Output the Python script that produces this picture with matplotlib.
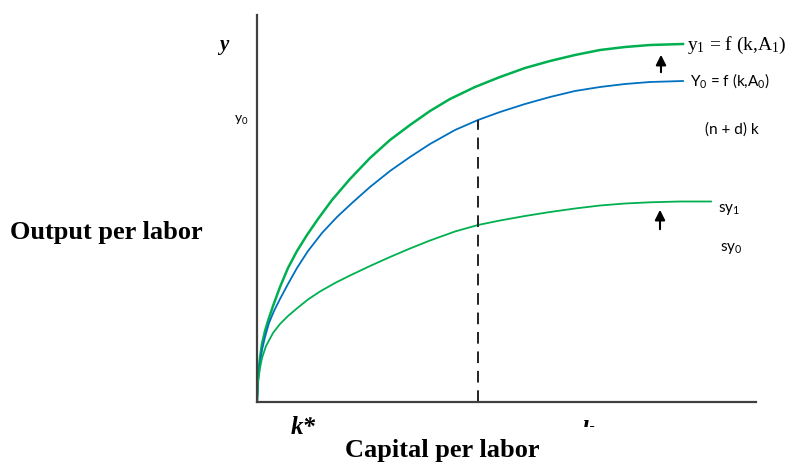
import matplotlib
matplotlib.use("Agg")
import matplotlib.pyplot as plt
from matplotlib.transforms import Bbox

# curve points (k = capital per labor, y = output per labor)
k_a1 = [0, 1, 3, 5, 8, 11, 16, 23, 31, 40, 50, 61, 75, 93, 113, 133, 153, 173, 193,
        218, 243, 268, 293, 318, 343, 368, 393, 426]
y_a1 = [0, 24, 44, 58, 71, 81, 96, 115, 134, 151, 167, 183, 202, 223, 244, 262, 277, 291, 303,
        315, 325, 334, 341, 347, 352, 355, 357, 358]

k_a0 = [0, 1, 3, 5, 8, 12, 17, 23, 31, 40, 51, 65, 80, 95, 113, 133, 153, 173, 198,
        221, 243, 268, 293, 318, 343, 368, 393, 426]
y_a0 = [0, 22, 39, 52, 65, 79, 91, 103, 118, 134, 151, 169, 185, 199, 215, 231, 245, 258, 272,
        282, 290, 298, 305, 311, 315, 318, 320, 321]

k_sy1 = [0, 1, 3, 5, 9, 16, 23, 31, 41, 51, 63, 78, 93, 113, 133, 153, 173, 198,
         221, 243, 268, 293, 318, 343, 368, 393, 423, 454]
y_sy1 = [0, 20, 34, 44, 56, 69, 78, 86, 94.5, 102.5, 110.5, 119, 126.5, 136, 145, 153.5, 161.5, 170.5,
         177, 181.5, 186, 190, 193.5, 196.5, 198.5, 199.7, 200.5, 200.5]

k_star = 221
y_star = 282

GREEN = "#00B050"
BLUE = "#0070C0"
AXIS = "#404040"

W, H = 787, 466
fig = plt.figure(figsize=(W / 100, H / 100), dpi=100)
plt.rcParams["mathtext.default"] = "regular"

# axes placed in pixel terms: left 257, right 756, top 15, bottom 402
ax = fig.add_axes([257 / W, 1 - 402 / H, (756 - 257) / W, (402 - 15) / H])
ax.set_xlim(0, 499)
ax.set_ylim(0, 387)
for side in ["top", "right"]:
    ax.spines[side].set_visible(False)
for side in ["left", "bottom"]:
    ax.spines[side].set_color(AXIS)
    ax.spines[side].set_linewidth(1.6)
ax.set_xticks([])
ax.set_yticks([])

ax.plot(k_a1, y_a1, color=GREEN, lw=1.8, solid_joinstyle="round")
ax.plot(k_a0, y_a0, color=BLUE, lw=1.3, solid_joinstyle="round")
ax.plot(k_sy1, y_sy1, color=GREEN, lw=1.3, solid_joinstyle="round")
ax.plot([k_star, k_star], [0, y_star], color="#222222", lw=1.4, ls=(0, (6, 4)))

# shift arrows
ax.annotate("", xy=(404, 350), xytext=(404, 327),
            arrowprops=dict(arrowstyle="-|>,head_width=0.3,head_length=0.6", color="black", lw=1.5))
ax.annotate("", xy=(403, 195), xytext=(403, 170),
            arrowprops=dict(arrowstyle="-|>,head_width=0.3,head_length=0.6", color="black", lw=1.5))


def px(x, y):
    return x / W, 1 - y / H


serif = "Liberation Serif"
sans = "Lato"

fig.text(*px(219, 45), "y", family=serif, weight="bold", style="italic", fontsize=15, va="center")
fig.text(*px(234, 120), "y$_0$", family=sans, fontsize=10, va="center")
fig.text(*px(10, 232), "Output per labor", family=serif, weight="bold", fontsize=19, va="center")
fig.text(*px(291, 427), "k*", family=serif, weight="bold", style="italic", fontsize=18, va="center")
kt = fig.text(*px(582, 432), "k", family=serif, weight="bold", style="italic", fontsize=18, va="center")
kt.set_clip_box(Bbox.from_extents(0, H - 427, W, H))
kt.set_clip_on(True)
fig.text(*px(442, 451), "Capital per labor", family=serif, weight="bold", fontsize=19,
         ha="center", va="center")

fig.text(*px(687, 45), "y$_1$ = f (k,A$_1$)", family=serif, fontsize=14, va="center")
fig.text(*px(690, 81), "Y$_0$ = f (k,A$_0$)", family=sans, fontsize=11, va="center")
fig.text(*px(705, 130), "(n + d) k", family=sans, fontsize=11, va="center")
fig.text(*px(718, 209), "sy$_1$", family=sans, fontsize=11, va="center")
fig.text(*px(720, 249), "sy$_0$", family=sans, fontsize=11, va="center")

fig.savefig("out.png", dpi=100)
